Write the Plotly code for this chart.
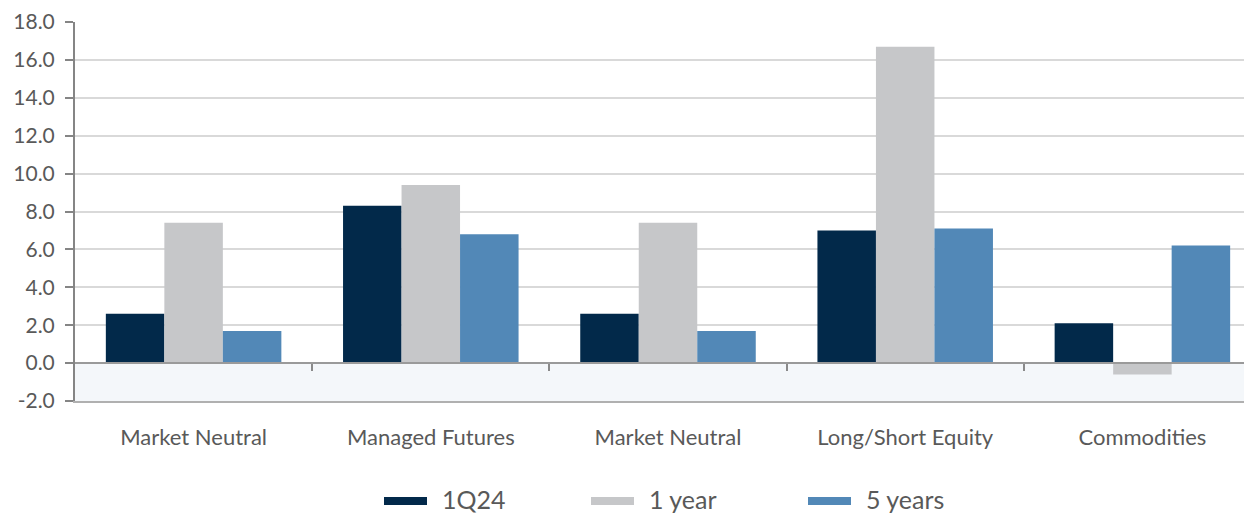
import plotly.graph_objects as go

categories = ["Market Neutral", "Managed Futures", "Market Neutral", "Long/Short Equity", "Commodities"]
series_names = ["1Q24", "1 year", "5 years"]
q1_24 = [2.6, 8.3, 2.6, 7.0, 2.1]
one_year = [7.4, 9.4, 7.4, 16.7, -0.6]
five_years = [1.7, 6.8, 1.7, 7.1, 6.2]
colors = ["#02294a", "#c6c7c9", "#5288b7"]
y_ticks = [-2, 0, 2, 4, 6, 8, 10, 12, 14, 16, 18]
y_tick_text = [f"{v:.1f}" for v in y_ticks]  # hyphen minus, as in the original

x = list(range(len(categories)))
FONT = "Source Sans Pro, Lato, Noto Sans, sans-serif"

# target plot area in page pixels (the figure is drawn 8px right and 8px down on the page)
OFF_X, OFF_Y = 8, 8
PAGE_H = 514
PLOT_L, PLOT_T, PLOT_B = 75, 22, 401
PW = 1186
PH = PLOT_B - PLOT_T
ML, MR, MT, MB = PLOT_L - OFF_X, 0, PLOT_T - OFF_Y, PAGE_H - PLOT_B
W, H = ML + PW, PAGE_H - OFF_Y


def px_x(px):
    return (px - PLOT_L) / PW


def px_y(py):
    return (PLOT_B - py) / PH


fig = go.Figure()
for name, vals, col in zip(series_names, [q1_24, one_year, five_years], colors):
    fig.add_trace(go.Bar(x=x, y=vals, name=name, marker=dict(color=col, line=dict(width=0)),
                         showlegend=False))

# invisible trace for the zero-line axis with boundary ticks
fig.add_trace(go.Scatter(x=x, y=[0] * len(x), xaxis="x2", mode="markers",
                         marker=dict(opacity=0), showlegend=False, hoverinfo="skip"))

# shaded negative band
fig.add_shape(type="rect", xref="paper", yref="y", x0=0, x1=1, y0=-2, y1=0,
              fillcolor="#f4f7fa", line=dict(width=0), layer="below")

# custom legend (wide bar-shaped keys)
legend_sym_x = [384, 591, 808]
for name, col, sx in zip(series_names, colors, legend_sym_x):
    fig.add_shape(type="rect", xref="paper", yref="paper",
                  x0=px_x(sx), x1=px_x(sx + 43), y0=px_y(505), y1=px_y(497),
                  fillcolor=col, line=dict(width=0))
    fig.add_annotation(xref="paper", yref="paper", x=px_x(sx + 56), y=px_y(499),
                       text=name, showarrow=False, xanchor="left", yanchor="middle",
                       font=dict(size=25, color="#595959", family=FONT))

fig.update_layout(
    width=W, height=H,
    margin=dict(l=ML, r=MR, t=MT, b=MB, pad=0),
    plot_bgcolor="white", paper_bgcolor="white",
    barmode="group", bargap=0.26, bargroupgap=0,
    font=dict(family=FONT, color="#595959", size=19),
    showlegend=False,
    xaxis=dict(tickvals=x, ticktext=categories, range=[-0.5, 4.5], automargin=False,
               showgrid=False, zeroline=False, showline=True, linecolor="#b0b0b0",
               linewidth=1.5, ticks="", tickfont=dict(size=22, color="#595959"),
               ticklabelstandoff=16),
    xaxis2=dict(overlaying="x", matches="x", anchor="free", position=0.1, automargin=False,
                tickvals=[i + 0.5 for i in x[:-1]], ticks="outside", ticklen=7,
                tickcolor="#8a8a8a", tickwidth=1.5, showticklabels=False,
                showline=True, linecolor="#9a9a9a", linewidth=1.5,
                showgrid=False, zeroline=False),
    yaxis=dict(range=[-2, 18], tickvals=y_ticks, ticktext=y_tick_text, automargin=False,
               showgrid=True, gridcolor="#d9d9d9", gridwidth=1.5, zeroline=False,
               showline=True, linecolor="#858585", linewidth=2,
               ticks="outside", ticklen=8, tickcolor="#858585", tickwidth=2,
               ticklabelstandoff=6,
               tickfont=dict(size=21, color="#595959")),
)

fig.write_html("out.html")
